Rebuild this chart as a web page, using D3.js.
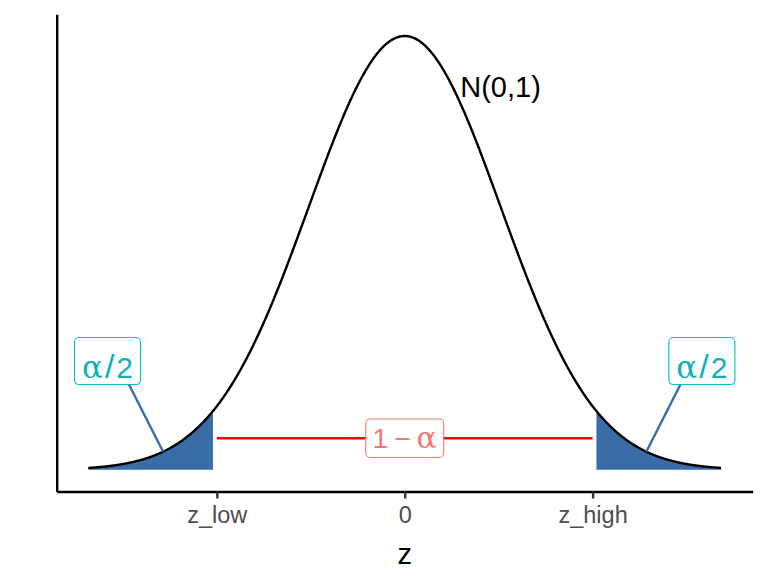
<!DOCTYPE html>
<html><head><meta charset="utf-8">
<script src="https://cdn.jsdelivr.net/npm/d3@7"></script>
<style>body{margin:0;background:#fff} svg{display:block}</style>
</head><body><svg id="c" width="768" height="576"></svg>
<script>
// ---- data ----
const zRange = [-3.3, 3.3];          // plotted extent of the density curve
const distParams = [0, 1];           // N(mean, sd)
const criticalZ = [-1.96, 1.96];     // z_low, z_high (segment ends / ticks)
const tailCut = [-2, 2];             // shaded tails edges
const tickValues = [-1.96, 0, 1.96];
const tickLabels = ["z_low", "0", "z_high"];
const tailLabelX = [-3.1, 3.1];
const tailLabelY = [0.1, 0.1];
const tailPointX = [-2.52, 2.52];
const midLabelPos = [0, 0.029];
const curveLabelPos = [1, 0.352];
const curveLabelText = "N(0,1)";
const axisTitle = "z";

// ---- helpers ----
const dnorm = z => Math.exp(-0.5 * ((z - distParams[0]) / distParams[1]) ** 2) / (distParams[1] * Math.sqrt(2 * Math.PI));
const grid = (a, b, n) => d3.range(n + 1).map(i => a + (b - a) * i / n);

const svg = d3.select("#c");
const xPad = 0.05 * (zRange[1] - zRange[0]);
const peak = dnorm(distParams[0]);
const x = d3.scaleLinear().domain([zRange[0] - xPad, zRange[1] + xPad]).range([56.7, 752.7]);
const y = d3.scaleLinear().domain([-0.05 * peak, peak * 1.05]).range([491.5, 14.3]);

const curve = grid(zRange[0], zRange[1], 660).map(z => [z, dnorm(z)]);
const leftTail = grid(zRange[0], tailCut[0], 200).map(z => [z, dnorm(z)]);
const rightTail = grid(tailCut[1], zRange[1], 200).map(z => [z, dnorm(z)]);

const fillCol = "#396DA8";
const area = d3.area().x(d => x(d[0])).y0(y(0)).y1(d => y(d[1]));
const line = d3.line().x(d => x(d[0])).y(d => y(d[1]));

svg.selectAll("path.tail").data([leftTail, rightTail]).join("path")
  .attr("class", "tail").attr("d", area).attr("fill", fillCol);

svg.append("path").datum(curve).attr("d", line)
  .attr("fill", "none").attr("stroke", "#000").attr("stroke-width", 2.4);

// red segment
svg.append("line")
  .attr("x1", x(criticalZ[0])).attr("x2", x(criticalZ[1]))
  .attr("y1", y(midLabelPos[1])).attr("y2", y(midLabelPos[1]))
  .attr("stroke", "#FF0000").attr("stroke-width", 2.4);

// axes
const xAxis = d3.axisBottom(x).tickValues(tickValues)
  .tickFormat((d, i) => tickLabels[i]).tickSizeOuter(0).tickSizeInner(7);
const gx = svg.append("g").attr("transform", `translate(0,${y.range()[0]})`).call(xAxis);
gx.select(".domain").attr("stroke", "#000").attr("stroke-width", 2.4);
gx.selectAll(".tick line").attr("stroke", "#333").attr("stroke-width", 2.4);
gx.selectAll(".tick text").attr("y", 31.8).attr("dy", null)
  .attr("fill", "#4D4D4D").style("font", "23.5px 'Liberation Sans', Arial, sans-serif");

const yAxis = d3.axisLeft(y).tickValues([]).tickSizeOuter(0);
const gy = svg.append("g").attr("transform", `translate(${x.range()[0]},0)`).call(yAxis);
gy.select(".domain").attr("stroke", "#000").attr("stroke-width", 2.4);

svg.append("text").attr("x", x(0)).attr("y", 564).attr("text-anchor", "middle")
  .style("font", "29px 'Liberation Sans', Arial, sans-serif").attr("fill", "#000").text(axisTitle);

// curve label
svg.append("text").attr("x", x(curveLabelPos[0])).attr("y", y(curveLabelPos[1]))
  .attr("dy", "0.36em").attr("text-anchor", "middle")
  .style("font", "29px 'Liberation Sans', Arial, sans-serif").attr("fill", "#000").text(curveLabelText);

// tail labels with leader segments
const teal = "#00BFC4", tealText = "#12B0B6";
tailLabelX.forEach((lx, i) => {
  const cx = x(lx), cy = y(tailLabelY[i]);
  const bw = 66, bh = 47;
  const px = x(tailPointX[i]), py = y(dnorm(tailPointX[i]));
  const sgn = Math.sign(px - cx);
  svg.append("line").attr("x1", cx + sgn * 0.65 * bw / 2).attr("y1", cy + bh / 2)
    .attr("x2", px).attr("y2", py).attr("stroke", fillCol).attr("stroke-width", 2.4);
  svg.append("rect").attr("x", cx - bw / 2).attr("y", cy - bh / 2)
    .attr("width", bw).attr("height", bh).attr("rx", 4.5)
    .attr("fill", "#fff").attr("stroke", teal).attr("stroke-width", 1.1);
  const t = svg.append("text").attr("x", cx).attr("y", cy + 17).attr("text-anchor", "middle")
    .attr("fill", tealText).style("font", "30px 'Liberation Sans', Arial, sans-serif");
  t.append("tspan").style("font-family", "'DejaVu Serif', serif").style("font-size", "31px").text("α");
  t.append("tspan").attr("dx", 2).style("font-size", "34px").text("/");
  t.append("tspan").attr("dx", 2).text("2");
});

// middle label
{
  const cx = x(midLabelPos[0]), cy = y(midLabelPos[1]);
  const bw = 78, bh = 38.5;
  const salmon = "#F8766D";
  svg.append("rect").attr("x", cx - bw / 2).attr("y", cy - bh / 2)
    .attr("width", bw).attr("height", bh).attr("rx", 4.5)
    .attr("fill", "#fff").attr("stroke", salmon).attr("stroke-width", 1.1);
  const t = svg.append("text").attr("x", cx).attr("y", cy + 10).attr("text-anchor", "middle")
    .attr("fill", salmon).style("font", "28px 'Liberation Sans', Arial, sans-serif");
  t.append("tspan").text("1");
  t.append("tspan").attr("dx", 6).text("−");
  t.append("tspan").attr("dx", 6).style("font-family", "'DejaVu Serif', serif").style("font-size", "30px").text("α");
}
</script></body></html>
